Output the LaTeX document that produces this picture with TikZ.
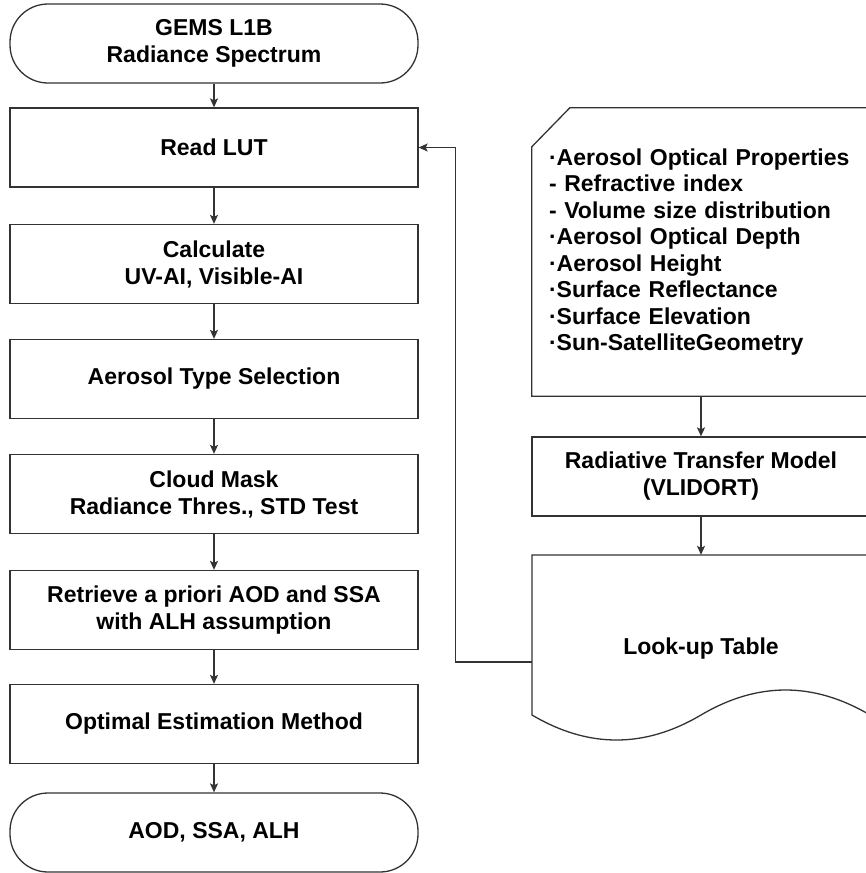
\documentclass[tikz,border=0pt]{standalone}
\usepackage{fontspec}
\setmainfont{Liberation Sans}
\usetikzlibrary{arrows.meta}
\definecolor{ln}{HTML}{333333}
\begin{document}
\begin{tikzpicture}[x=1pt,y=-1pt,
  every node/.style={font=\bfseries\fontsize{23}{27}\selectfont, align=center, inner sep=0pt, text=black},
  box/.style={draw=ln, line width=1.3pt, minimum width=408pt, minimum height=79pt},
  term/.style={box, rounded corners=38pt},
  rbox/.style={draw=ln, line width=1.3pt, minimum width=338pt, minimum height=79pt},
  outline/.style={draw=ln, line width=1.3pt},
  arr/.style={draw=ln, line width=1.3pt, -{Stealth[length=9pt,width=8pt,inset=2pt]}}]
\clip (0,0) rectangle (866,873);
\fill[white] (0,0) rectangle (866,873);
% left column
\node[term] (start) at (214,43.5) {GEMS L1B\\Radiance Spectrum};
\node[box] (readlut) at (214,147.5) {Read LUT};
\node[box] (calc) at (214,264) {Calculate\\UV-AI, Visible-AI};
\node[box] (type) at (214,379) {Aerosol Type Selection};
\node[box] (cloud) at (214,494) {Cloud Mask\\Radiance Thres., STD Test};
\node[box] (retr) at (214,610) {Retrieve a priori AOD and SSA\\with ALH assumption};
\node[box] (oem) at (214,724) {Optimal Estimation Method};
\node[term] (end) at (214,832.5) {AOD, SSA, ALH};
% right column
\node[minimum width=338pt, minimum height=288pt, text width=304pt, align=left,
      font=\bfseries\fontsize{23}{26.5}\selectfont] (card) at (701,252)
  {·Aerosol Optical Properties\\- Refractive index\\- Volume size distribution\\·Aerosol Optical Depth\\·Aerosol Height\\·Surface Reflectance\\·Surface Elevation\\·Sun-SatelliteGeometry};
\draw[outline] ([xshift=38pt]card.north west) -- (card.north east) -- (card.south east)
  -- (card.south west) -- ([yshift=-39pt]card.north west) -- cycle;
\node[rbox] (rtm) at (701,476.5) {Radiative Transfer Model\\(VLIDORT)};
\node[minimum width=338pt, minimum height=188pt] (doc) at (701,649) {Look-up Table};
\draw[outline] (532,555) -- (870,555) -- (870,715)
  .. controls (813.67,681.67) and (757.33,681.67) .. (701,715)
  .. controls (644.67,748.33) and (588.33,748.33) .. (532,715) -- cycle;
% connectors
\draw[arr] (start) -- (readlut);
\draw[arr] (readlut) -- (calc);
\draw[arr] (calc) -- (type);
\draw[arr] (type) -- (cloud);
\draw[arr] (cloud) -- (retr);
\draw[arr] (retr) -- (oem);
\draw[arr] (oem) -- (end);
\draw[arr] (card.south) -- (rtm.north);
\draw[arr] (rtm.south) -- (doc.north);
\draw[arr] ([yshift=-13pt]doc.west) -- ++(-76,0) |- (readlut.east);
\end{tikzpicture}
\end{document}
